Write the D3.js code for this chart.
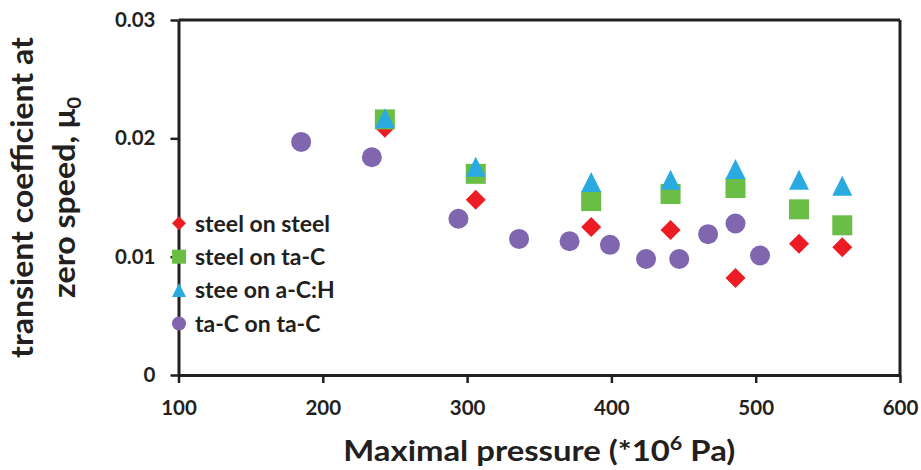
<!DOCTYPE html>
<html>
<head>
<meta charset="utf-8">
<script src="https://cdn.jsdelivr.net/npm/d3@7"></script>
<style>
  html, body { margin: 0; padding: 0; background: #fff; }
  svg { display: block; }
  text { font-family: Lato, "Open Sans", sans-serif; font-weight: 700; fill: #231f20; }
</style>
</head>
<body>
<svg id="chart" width="921" height="470"></svg>
<script>
// Maximal pressure (×10^6 Pa) for each series
const pressureGroups = [243, 306, 386, 441, 486, 530, 560];
const pressureTaC = [185, 234, 294, 336, 371, 399, 424, 447, 467, 486, 503];

// Transient friction coefficient at zero speed, mu_0
const steelOnSteel = [0.0209, 0.0148, 0.0125, 0.01225, 0.0082, 0.0111, 0.0108];
const steelOnTaC   = [0.0216, 0.0170, 0.0147, 0.0153, 0.0158, 0.0140, 0.01265];
const steelOnACH   = [0.0217, 0.0176, 0.0163, 0.0165, 0.0174, 0.0165, 0.0160];
const taCOnTaC     = [0.0197, 0.0184, 0.0132, 0.0115, 0.0113, 0.0110, 0.0098, 0.0098, 0.0119, 0.0128, 0.0101];

const seriesNames = ["steel on steel", "steel on ta-C", "stee on a-C:H", "ta-C on ta-C"];
const xTicks = [100, 200, 300, 400, 500, 600];
const yTicks = [0, 0.01, 0.02, 0.03];

const series = [
  { name: seriesNames[0], xs: pressureGroups, ys: steelOnSteel, shape: "diamond",  color: "#ed1c24" },
  { name: seriesNames[1], xs: pressureGroups, ys: steelOnTaC,   shape: "square",   color: "#6abd45" },
  { name: seriesNames[2], xs: pressureGroups, ys: steelOnACH,   shape: "triangle", color: "#29abe2" },
  { name: seriesNames[3], xs: pressureTaC,    ys: taCOnTaC,     shape: "circle",   color: "#7f66ae" }
];

const svg = d3.select("#chart");
const margin = { left: 178.5, right: 900, top: 20, bottom: 375 };

const x = d3.scaleLinear().domain([100, 600]).range([margin.left, margin.right]);
const y = d3.scaleLinear().domain([0, 0.03]).range([margin.bottom, margin.top]);

const axisColor = "#231f20";

// Marker path centred on (0,0); s = full width of the marker
function markerPath(shape, s) {
  const h = s / 2;
  switch (shape) {
    case "diamond":  return `M0,${-h}L${h},0L0,${h}L${-h},0Z`;
    case "square":   return `M${-h},${-h}H${h}V${h}H${-h}Z`;
    case "triangle": return `M0,${-h}L${h},${h}L${-h},${h}Z`;
    default:         return `M${h},0A${h},${h},0,1,1,${-h},0A${h},${h},0,1,1,${h},0Z`;
  }
}

// Frame: top and right edges
svg.append("line")
  .attr("x1", x(100)).attr("x2", x(600)).attr("y1", y(0.03)).attr("y2", y(0.03))
  .attr("stroke", axisColor).attr("stroke-width", 3);
svg.append("line")
  .attr("x1", x(600)).attr("x2", x(600)).attr("y1", y(0.03)).attr("y2", y(0))
  .attr("stroke", axisColor).attr("stroke-width", 3);

// Axes
const xAxis = svg.append("g")
  .attr("transform", `translate(0,${y(0)})`)
  .call(d3.axisBottom(x).tickValues(xTicks).tickSize(8).tickSizeOuter(0).tickPadding(17).tickFormat(d3.format("d")));
const yAxis = svg.append("g")
  .attr("transform", `translate(${x(100)},0)`)
  .call(d3.axisLeft(y).tickValues(yTicks).tickSize(8).tickSizeOuter(0).tickPadding(15)
    .tickFormat(d => d === 0 ? "0" : d3.format(".2f")(d)));

[xAxis, yAxis].forEach(g => {
  g.select(".domain").attr("stroke", axisColor).attr("stroke-width", 3);
  g.selectAll(".tick line").attr("stroke", axisColor).attr("stroke-width", 2.5);
  g.selectAll(".tick text")
    .style("font-family", "Lato, sans-serif").style("font-weight", 700)
    .attr("font-size", 20.5).attr("fill", axisColor);
});

// Data marks
const plot = svg.append("g");
series.forEach(s => {
  plot.append("g").selectAll("path")
    .data(s.xs.map((p, i) => [p, s.ys[i]]))
    .join("path")
    .attr("d", markerPath(s.shape, 20))
    .attr("transform", d => `translate(${x(d[0])},${y(d[1])})`)
    .attr("fill", s.color);
});

// Legend inside the plot area, on the y axis
const legend = svg.append("g").attr("transform", `translate(${x(100) + 0.5},223.3)`);
series.forEach((s, i) => {
  const row = legend.append("g").attr("transform", `translate(0,${i * 33.4})`);
  row.append("path").attr("d", markerPath(s.shape, 14)).attr("fill", s.color);
  row.append("text").attr("x", 16).attr("y", 8.3).attr("font-size", 23).text(s.name);
});

// Axis titles
svg.append("text")
  .attr("x", (x(100) + x(600)) / 2).attr("y", 461)
  .attr("text-anchor", "middle").attr("font-size", 29)
  .attr("textLength", 392).attr("lengthAdjust", "spacingAndGlyphs")
  .call(t => {
    t.append("tspan").text("Maximal pressure (*10");
    t.append("tspan").attr("font-size", 19).attr("dy", -11).text("6");
    t.append("tspan").attr("dy", 11).text(" Pa)");
  });

const yTitle = svg.append("g").attr("transform", `translate(0,197.5) rotate(-90)`);
yTitle.append("text")
  .attr("x", 0).attr("y", 33)
  .attr("text-anchor", "middle").attr("font-size", 30)
  .attr("textLength", 321).attr("lengthAdjust", "spacingAndGlyphs")
  .text("transient coefficient at");
yTitle.append("text")
  .attr("x", 0).attr("y", 75)
  .attr("text-anchor", "middle").attr("font-size", 30)
  .attr("textLength", 201).attr("lengthAdjust", "spacingAndGlyphs")
  .call(t => {
    t.append("tspan").text("zero speed, μ");
    t.append("tspan").attr("font-size", 19).attr("dy", 6).text("0");
  });
</script>
</body>
</html>
